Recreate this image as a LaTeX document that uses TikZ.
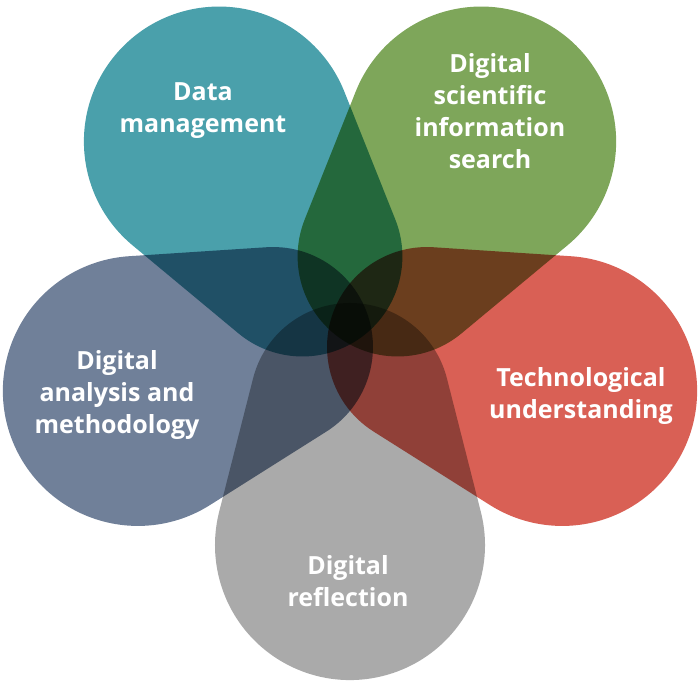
\documentclass[tikz,border=0pt]{standalone}
\usepackage{fontspec}
\setmainfont{Open Sans}
\usepackage{tikz}
\definecolor{petalteal}{HTML}{4AA0AB}
\definecolor{petalgreen}{HTML}{7EA65A}
\definecolor{petalred}{HTML}{D96055}
\definecolor{petalgray}{HTML}{AAAAAA}
\definecolor{petalslate}{HTML}{708099}
\tikzstyle{petal}=[draw=none]
\tikzstyle{label}=[text=white,font=\bfseries\fontsize{12.5}{16}\selectfont,align=center,inner sep=0pt]
% one petal along the x axis: small round tip near the centre, big round end outside
\newcommand{\petalpath}{(56.3,96.9) -- (189.7,130.8)
  arc[start angle=104.3, end angle=-104.3, radius=135]
  -- (56.3,-96.9)
  arc[start angle=-104.3, end angle=-255.7, radius=100] -- cycle}

\begin{document}
\begin{tikzpicture}[x=0.5pt,y=0.5pt]
\useasboundingbox (-350,-358) rectangle (350,322);
\begin{scope}[blend group=multiply]
\fill[petal, petalteal, rotate=126] \petalpath;
\fill[petal, petalgreen, rotate=54] \petalpath;
\fill[petal, petalred, rotate=-18] \petalpath;
\fill[petal, petalgray, rotate=-90] \petalpath;
\fill[petal, petalslate, rotate=198] \petalpath;
\end{scope}
\node[label] at (-147, 211) (dm) {Data\\management};
\node[label] at (140, 211) (dsis) {Digital\\scientific\\information\\search};
\node[label] at (231, -74) (tu) {Technological\\understanding};
\node[label] at (-2, -259) (dr) {Digital\\reflection};
\node[label] at (-233, -73) (dam) {Digital\\analysis and\\methodology};
\end{tikzpicture}
\end{document}
